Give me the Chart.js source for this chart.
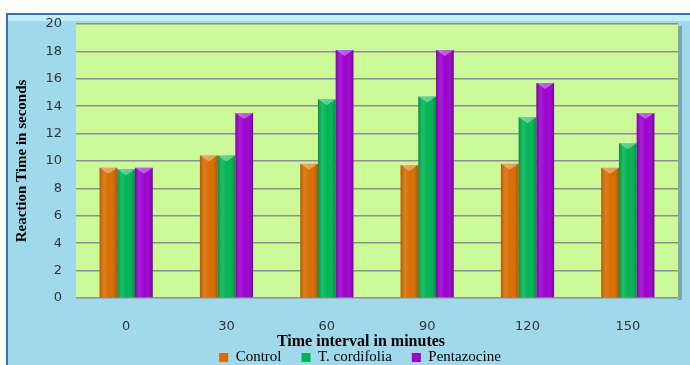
<!DOCTYPE html>
<html>
<head>
<meta charset="utf-8">
<script src="https://cdn.jsdelivr.net/npm/chart.js"></script>
<style>
  html, body { margin: 0; padding: 0; background: #fff; }
  #wrap { width: 690px; height: 365px; }
</style>
</head>
<body>
<div id="wrap"><canvas id="myChart" width="690" height="365"></canvas></div>
<script>
const categories = ['0', '30', '60', '90', '120', '150'];
const control = [9.5, 10.4, 9.8, 9.7, 9.8, 9.5];
const cordifolia = [9.4, 10.4, 14.5, 14.7, 13.2, 11.3];
const pentazocine = [9.5, 13.5, 18.1, 18.1, 15.7, 13.5];
const yMin = 0, yMax = 20, yStep = 2;

// blue frame + green plot area behind everything
const framePlugin = {
    id: 'frame',
    beforeDraw(chart) {
        const c = chart.ctx;
        const a = chart.chartArea;
        c.save();
        c.fillStyle = '#ffffff';
        c.fillRect(0, 0, chart.width, chart.height);
        c.fillStyle = '#a0d9ec';
        c.fillRect(7, 14, chart.width - 7, chart.height - 14);
        c.fillStyle = '#c4eefa';
        c.fillRect(8, 15, chart.width - 8, 6);
        c.strokeStyle = '#3f6eaa';
        c.lineWidth = 2;
        c.beginPath();
        c.moveTo(7, chart.height);
        c.lineTo(7, 14);
        c.lineTo(chart.width, 14);
        c.stroke();
        // plot shadow
        c.fillStyle = 'rgba(60,80,60,0.35)';
        c.fillRect(a.right, a.top + 2, 4, a.bottom - a.top);
        c.fillStyle = '#ccfa98';
        c.fillRect(a.left, a.top, a.right - a.left, a.bottom - a.top);
        c.restore();
    },
    afterDatasetsDraw(chart) {
        const c = chart.ctx;
        c.save();
        chart.data.datasets.forEach((ds, i) => {
            chart.getDatasetMeta(i).data.forEach(bar => {
                const left = bar.x - bar.width / 2;
                const right = bar.x + bar.width / 2;
                const g = c.createLinearGradient(left, 0, right, 0);
                g.addColorStop(0, 'rgba(0,0,0,0.18)');
                g.addColorStop(0.25, 'rgba(255,255,255,0.12)');
                g.addColorStop(0.55, 'rgba(255,255,255,0)');
                g.addColorStop(1, 'rgba(0,0,0,0.22)');
                c.fillStyle = g;
                c.fillRect(left, bar.y, bar.width, bar.base - bar.y);
                c.fillStyle = 'rgba(255,255,255,0.35)';
                c.beginPath();
                c.moveTo(left, bar.y);
                c.lineTo(right, bar.y);
                c.lineTo(bar.x, bar.y + 6);
                c.closePath();
                c.fill();
            });
        });
        c.restore();
    }
};

const ctx = document.getElementById('myChart').getContext('2d');
new Chart(ctx, {
    type: 'bar',
    data: {
        labels: categories,
        datasets: [
            { label: 'Control', data: control, backgroundColor: '#d96c00' },
            { label: 'T. cordifolia', data: cordifolia, backgroundColor: '#00b452' },
            { label: 'Pentazocine', data: pentazocine, backgroundColor: '#9b00cf' }
        ]
    },
    options: {
        responsive: false,
        animation: false,
        layout: { padding: { top: 24, right: 12, left: 42, bottom: -10 } },
        datasets: { bar: { categoryPercentage: 0.53, barPercentage: 1 } },
        plugins: {
            tooltip: { enabled: false },
            legend: {
                position: 'bottom',
                labels: {
                    boxWidth: 9,
                    boxHeight: 9,
                    padding: 20,
                    color: '#000',
                    font: { family: 'Liberation Serif', size: 15 }
                }
            }
        },
        scales: {
            x: {
                grid: { display: false },
                border: { display: false },
                ticks: {
                    color: '#333',
                    padding: 13,
                    font: { family: 'DejaVu Sans', size: 13 }
                },
                title: {
                    display: true,
                    text: 'Time interval in minutes\u00a0\u00a0\u00a0\u00a0\u00a0\u00a0\u00a0\u00a0',
                    color: '#000',
                    font: { family: 'Liberation Serif', size: 16, weight: 'bold' },
                    padding: { top: 0, bottom: -21 }
                },
                afterFit(scale) { scale.height = 32; }
            },
            y: {
                min: yMin,
                max: yMax,
                ticks: {
                    stepSize: yStep,
                    color: '#333',
                    padding: 14,
                    font: { family: 'DejaVu Sans', size: 13 }
                },
                grid: { color: '#8f8f8f', lineWidth: 1.5, drawTicks: false },
                border: { display: false },
                title: {
                    display: true,
                    text: 'Reaction Time in seconds',
                    color: '#000',
                    font: { family: 'Liberation Serif', size: 15, weight: 'bold' },
                    padding: { top: -29, bottom: 0 }
                },
                afterFit(scale) { scale.width = 34; }
            }
        }
    },
    plugins: [framePlugin]
});
</script>
</body>
</html>
